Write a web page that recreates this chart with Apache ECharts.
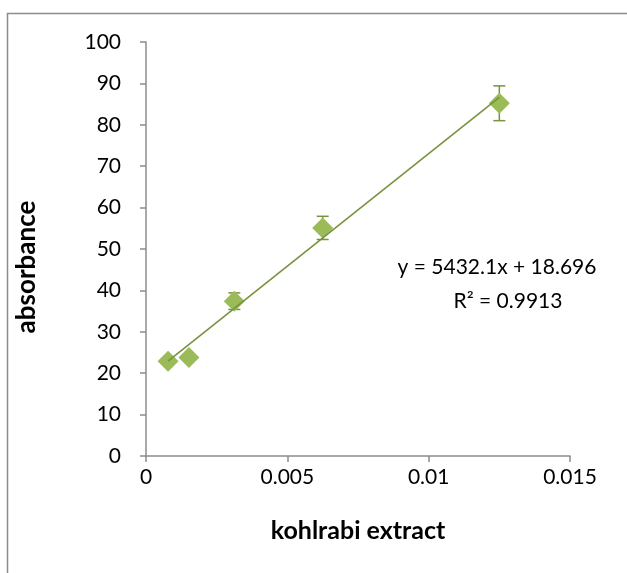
<!DOCTYPE html>
<html><head><meta charset="utf-8">
<script src="https://cdn.jsdelivr.net/npm/echarts@6/dist/echarts.min.js"></script>
<style>html,body{margin:0;padding:0;background:#fff}#c{width:627px;height:573px}</style>
</head><body><div id="c"></div>
<script>
const xValues = [0.00078, 0.00152, 0.003125, 0.00625, 0.0125];
const yValues = [22.9, 23.8, 37.4, 55.1, 85.2];
const yErrors = [0.3, 0.3, 2.0, 2.8, 4.2];
const slope = 5432.1, intercept = 18.696;
const equationText = 'y = 5432.1x + 18.696';
const r2Text = 'R² = 0.9913';
const xTicks = [0, 0.005, 0.01, 0.015];
const yTicks = [0,10,20,30,40,50,60,70,80,90,100];
const xTitle = 'kohlrabi extract';
const yTitle = 'absorbance';

const FONT = 'Lato, "Open Sans", sans-serif';
const chart = echarts.init(document.getElementById('c'));
const pts = xValues.map((x,i)=>[x,yValues[i]]);
const errData = xValues.map((x,i)=>[x,yValues[i]-yErrors[i],yValues[i]+yErrors[i]]);
const xmin = Math.min(...xValues), xmax = Math.max(...xValues);
const trend = [[xmin, slope*xmin+intercept],[xmax, slope*xmax+intercept]];

chart.setOption({
  animation:false,
  grid:{left:146,right:57,top:42,bottom:117},
  xAxis:{type:'value',min:0,max:0.015,interval:0.005,
    axisLine:{show:true,lineStyle:{color:'#8c8c8c',width:1.5}},
    axisTick:{show:true,length:6,inside:false,lineStyle:{color:'#8c8c8c',width:1.5}},
    splitLine:{show:false},
    axisLabel:{color:'#000',fontSize:21,fontFamily:FONT,margin:11,formatter:v=>String(+v.toFixed(4))},
    name:xTitle,nameLocation:'middle',nameGap:62,
    nameTextStyle:{color:'#000',fontSize:25,fontWeight:'bold',fontFamily:FONT}},
  yAxis:{type:'value',min:0,max:100,interval:10,
    axisLine:{show:true,lineStyle:{color:'#8c8c8c',width:1.5}},
    axisTick:{show:true,length:6,lineStyle:{color:'#8c8c8c',width:1.5}},
    splitLine:{show:false},
    axisLabel:{color:'#000',fontSize:21,fontFamily:FONT,margin:25}},
  graphic:[
    {type:'rect',shape:{x:7.5,y:13.5,width:700,height:700},style:{fill:'none',stroke:'#8c8c8c',lineWidth:1.5},silent:true,z:-10},
    {type:'text',x:27,y:267,rotation:Math.PI/2,style:{text:yTitle,fill:'#000',font:'bold 26px '+FONT,textAlign:'center',textVerticalAlign:'middle'}},
    {type:'text',x:497,y:267,style:{text:equationText,fill:'#000',font:'21px '+FONT,textAlign:'center',textVerticalAlign:'middle'}},
    {type:'text',x:508,y:301,style:{text:r2Text,fill:'#000',font:'21px '+FONT,textAlign:'center',textVerticalAlign:'middle'}}
  ],
  series:[
    {type:'custom',data:errData,z:1,
      renderItem:function(params,api){
        const x=api.value(0), lo=api.coord([x,api.value(1)]), hi=api.coord([x,api.value(2)]);
        const hw=6, st={stroke:'#77933C',lineWidth:1.5};
        return {type:'group',children:[
          {type:'line',shape:{x1:lo[0],y1:lo[1],x2:hi[0],y2:hi[1]},style:st},
          {type:'line',shape:{x1:lo[0]-hw,y1:lo[1],x2:lo[0]+hw,y2:lo[1]},style:st},
          {type:'line',shape:{x1:hi[0]-hw,y1:hi[1],x2:hi[0]+hw,y2:hi[1]},style:st}
        ]};
      }},
    {type:'scatter',data:pts,symbol:'diamond',symbolSize:[21,21],itemStyle:{color:'#9BBB59',opacity:1},z:2},
    {type:'line',data:trend,symbol:'none',lineStyle:{color:'#77933C',width:1.6},z:3}
  ]
});
</script></body></html>
